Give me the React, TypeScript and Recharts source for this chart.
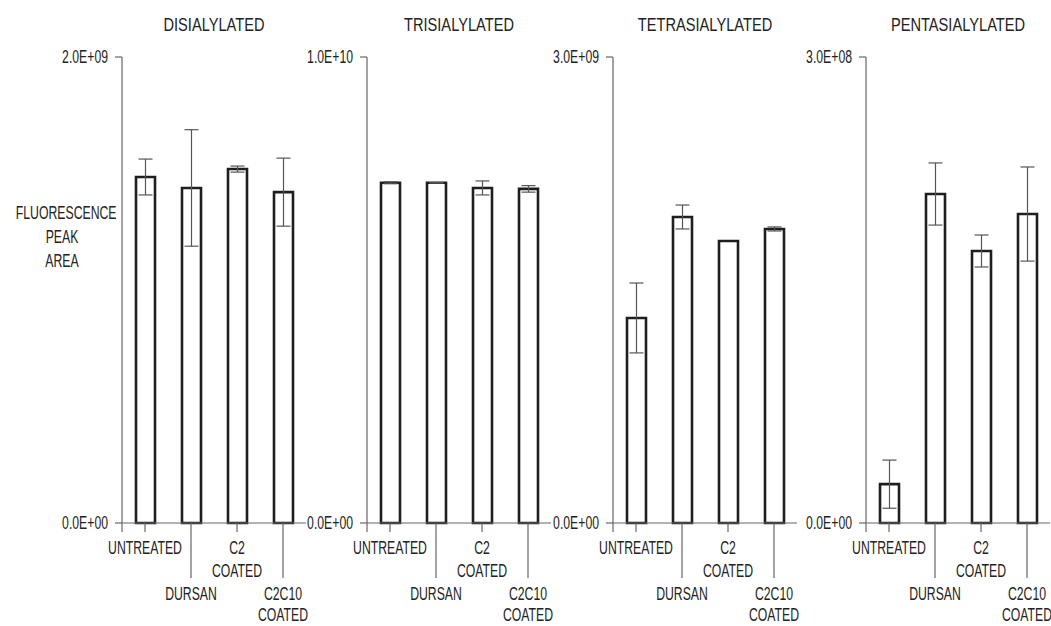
import React from 'react'
import { BarChart, Bar, XAxis, YAxis, ErrorBar } from 'recharts'

const categories = ['UNTREATED', 'DURSAN', 'C2 COATED', 'C2C10 COATED']

const disialylated = [1.485e9, 1.438e9, 1.519e9, 1.42e9]
const disialylatedErr = [0.077e9, 0.25e9, 0.013e9, 0.146e9]
const trisialylated = [7.3e9, 7.3e9, 7.19e9, 7.17e9]
const trisialylatedErr = [0.02e9, 0.005e9, 0.15e9, 0.07e9]
const tetrasialylated = [1.32e9, 1.97e9, 1.815e9, 1.893e9]
const tetrasialylatedErr = [0.225e9, 0.077e9, 0, 0.013e9]
const pentasialylated = [2.5e7, 2.118e8, 1.751e8, 1.989e8]
const pentasialylatedErr = [1.55e7, 2.0e7, 1.03e7, 3.03e7]

const titles = ['DISIALYLATED', 'TRISIALYLATED', 'TETRASIALYLATED', 'PENTASIALYLATED']
const axisMax = [2e9, 1e10, 3e9, 3e8]
const yLabel = ['FLUORESCENCE', 'PEAK', 'AREA']

const seriesValues = [disialylated, trisialylated, tetrasialylated, pentasialylated]
const seriesErrors = [disialylatedErr, trisialylatedErr, tetrasialylatedErr, pentasialylatedErr]

// layout
const AXIS_X = [122, 367, 613, 866]
const Y_AXIS_W = 70
const PLOT_W = 184
const RIGHT_PAD = 24
const PLOT_TOP = 57
const PLOT_BOTTOM = 523
const H = 626
const FONT = '"Liberation Sans", Arial, sans-serif'
const TEXT = '#222'
const LINE = '#666'

const sci = (v: number) => {
  if (v === 0) return '0.0E+00'
  const e = Math.floor(Math.log10(v) + 1e-9)
  const m = v / Math.pow(10, e)
  return `${m.toFixed(1)}E+${String(e).padStart(2, '0')}`
}

const ValueTick = ({ x, y, payload }: any) => (
  <g>
    <line x1={x - 7} y1={y} x2={x} y2={y} stroke={LINE} strokeWidth={1.2} />
    {payload.value === 0 && (
      <line x1={x} y1={y} x2={x} y2={y + 9} stroke={LINE} strokeWidth={1.2} />
    )}
    <text
      transform={`translate(${x - 14},${y}) scale(0.68,1)`}
      textAnchor="end"
      dominantBaseline="central"
      fontSize={18}
      fontFamily={FONT}
      fill={TEXT}
    >
      {sci(payload.value)}
    </text>
  </g>
)

const CategoryTick = ({ x, y, payload, index }: any) => {
  const long = index % 2 === 1
  const lines: string[] = String(payload.value).split(' ')
  const tickLen = long ? 55 : 9
  const first = long ? 71 : 25
  const step = long ? 21 : 23
  return (
    <g>
      <line x1={x} y1={y} x2={x} y2={y + tickLen} stroke={LINE} strokeWidth={1.2} />
      {lines.map((l, i) => (
        <text
          key={i}
          transform={`translate(${x},${y + first + i * step}) scale(0.68,1)`}
          textAnchor="middle"
          dominantBaseline="central"
          fontSize={18}
          fontFamily={FONT}
          fill={TEXT}
        >
          {l}
        </text>
      ))}
    </g>
  )
}

function Panel({ idx }: { idx: number }) {
  const data = categories.map((name, i) => ({
    name,
    value: seriesValues[idx][i],
    err: seriesErrors[idx][i],
  }))
  const left = AXIS_X[idx] - Y_AXIS_W
  const w = Y_AXIS_W + PLOT_W + RIGHT_PAD
  return (
    <div style={{ position: 'absolute', left, top: 0, width: w, height: H }}>
      <div
        style={{
          position: 'absolute',
          left: Y_AXIS_W - 20,
          width: PLOT_W + 40,
          top: 15,
          lineHeight: '20px',
          fontSize: 19,
          fontFamily: FONT,
          color: TEXT,
          textAlign: 'center',
          transform: 'scaleX(0.77)',
          whiteSpace: 'nowrap',
        }}
      >
        {titles[idx]}
      </div>
      <BarChart
        width={w}
        height={H}
        data={data}
        margin={{ top: PLOT_TOP, right: RIGHT_PAD, bottom: 0, left: 0 }}
        barCategoryGap={0}
        style={{ position: 'absolute', left: 0, top: 0 }}
      >
        <XAxis
          dataKey="name"
          height={H - PLOT_BOTTOM}
          interval={0}
          tickSize={0}
          tickMargin={0}
          tick={<CategoryTick />}
          axisLine={{ stroke: LINE, strokeWidth: 1.2 }}
          tickLine={false}
        />
        <YAxis
          width={Y_AXIS_W}
          domain={[0, axisMax[idx]]}
          ticks={[0, axisMax[idx]]}
          interval={0}
          tickSize={0}
          tickMargin={0}
          tick={<ValueTick />}
          axisLine={{ stroke: LINE, strokeWidth: 1.2 }}
          tickLine={false}
        />
        <Bar
          dataKey="value"
          barSize={19}
          fill="#fff"
          stroke="#1e1e1e"
          strokeWidth={2.6}
          isAnimationActive={false}
        >
          <ErrorBar dataKey="err" width={7} stroke="#555" strokeWidth={1.2} direction="y" />
        </Bar>
      </BarChart>
    </div>
  )
}

export default function App() {
  return (
    <div
      style={{
        position: 'absolute',
        left: 0,
        top: 0,
        width: 1051,
        height: H,
        background: '#fff',
        overflow: 'hidden',
      }}
    >
      <div
        style={{
          position: 'absolute',
          left: -4,
          width: 132,
          top: 201,
          fontSize: 17.5,
          lineHeight: '24px',
          fontFamily: FONT,
          color: TEXT,
          textAlign: 'center',
          transform: 'scaleX(0.7)',
        }}
      >
        {yLabel.map((l) => (
          <div key={l}>{l}</div>
        ))}
      </div>
      {AXIS_X.map((_, i) => (
        <Panel key={i} idx={i} />
      ))}
    </div>
  )
}
